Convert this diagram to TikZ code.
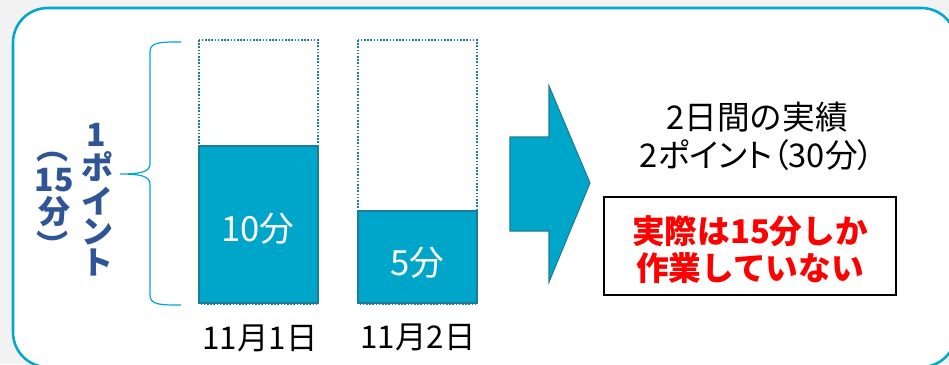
\documentclass[tikz,border=0pt]{standalone}
\usepackage{fontspec}
\usepackage{graphicx}
\setmainfont{Noto Sans CJK JP}
\newfontfamily\jp{Noto Sans CJK JP}
\newfontfamily\jpp{Noto Sans CJK JP}[RawFeature=+palt]
\definecolor{cyanfill}{RGB}{0,166,201}
\definecolor{tealline}{RGB}{28,124,150}
\definecolor{framecol}{RGB}{0,168,204}
\definecolor{bluetxt}{RGB}{47,85,151}
\definecolor{bgcol}{RGB}{242,242,242}
\definecolor{redtxt}{RGB}{255,0,0}
\tikzset{
  vchar/.style={text=bluetxt, font=\jp\bfseries\fontsize{24}{24}\selectfont, inner sep=0pt, anchor=center},
  barlabel/.style={text=white, font=\jp\fontsize{26}{26}\selectfont, inner sep=0pt},
  datelabel/.style={text=black, font=\jp\fontsize{23.5}{23.5}\selectfont, inner sep=0pt},
  restext/.style={text=black, font=\jp\fontsize{24.5}{24.5}\selectfont, inner sep=0pt},
  redtext/.style={text=redtxt, font=\jp\bfseries\fontsize{24.5}{24.5}\selectfont, inner sep=0pt},
  bartotal/.style={draw=tealline, line width=1.6pt, dash pattern=on 1.2pt off 1.2pt, fill=white},
  barfill/.style={draw=tealline, line width=1.5pt, fill=cyanfill},
}
\begin{document}
\begin{tikzpicture}[x=0.75pt,y=-0.75pt]
\fill[bgcol] (0,0) rectangle (949,364);
\useasboundingbox (0,0) rectangle (949,364);
% frame
\draw[framecol, line width=1.9pt, fill=white, rounded corners=26pt] (13,8) rectangle (956,367);
% brace
\draw[framecol, line width=0.9pt] (181,42) .. controls (160,42) and (150,42) .. (150,52) -- (150,164)
  .. controls (150,172) and (140,174) .. (120,174)
  .. controls (140,174) and (150,176) .. (150,184) -- (150,295)
  .. controls (150,305) and (160,305) .. (181,305);
% vertical text column 1
\node[vchar] (p1) at (96,135) {1};
\node[vchar] (p2) at (97,167) {ポ};
\node[vchar] (p3) at (97,201) {イ};
\node[vchar] (p4) at (97,232) {ン};
\node[vchar] (p5) at (97,262) {ト};
% vertical text column 2
\node[vchar, anchor=south] (q1) at (53,164) {\rotatebox{-90}{（}};
\node[vchar] (q2) at (54,180) {15};
\node[vchar] (q3) at (54,212) {分};
\node[vchar, anchor=north] (q4) at (53,229) {\rotatebox{-90}{）}};
% bars
\draw[bartotal] (199,40) rectangle (318,304);
\draw[barfill] (199,146) rectangle (318,303);
\draw[bartotal] (358,40) rectangle (477,304);
\draw[barfill] (358,211) rectangle (477,303);
\node[barlabel] (l1) at (258,229) {10分};
\node[barlabel] (l2) at (417,263) {5分};
\node[datelabel] (d1) at (260,338) {11月1日};
\node[datelabel] (d2) at (418,337) {11月2日};
% arrow
\draw[tealline, line width=0.8pt, fill=cyanfill] (510,137) -- (549,137) -- (549,86) -- (590,183) -- (549,282) -- (549,231) -- (510,231) -- cycle;
% result text
\node[restext] (t1) at (757,117) {2日間の実績};
\node[restext, font=\jpp\fontsize{24.5}{24.5}\selectfont] (t2) at (757,155) {2ポイント（30分）};
\draw[black, line width=1.2pt, fill=white] (604,197) rectangle (896,295);
\node[redtext] (r1) at (750,231) {実際は15分しか};
\node[redtext] (r2) at (750,268) {作業していない};
\end{tikzpicture}
\end{document}
